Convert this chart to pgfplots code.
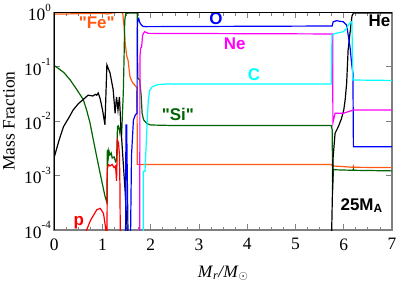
\documentclass[border=0pt]{standalone}
\usepackage{pgfplots}
\pgfplotsset{compat=1.18}
\usepackage{fontspec}
\setmainfont{Liberation Serif}
\newfontfamily\hel{Liberation Sans}
\definecolor{feor}{RGB}{255,90,20}
\definecolor{sigr}{RGB}{0,100,0}
\definecolor{pcyan}{RGB}{0,255,255}
\definecolor{pmag}{RGB}{255,0,255}
\definecolor{pblue}{RGB}{0,0,255}
\definecolor{pred}{RGB}{255,0,0}
\begin{document}
\begin{tikzpicture}
\useasboundingbox (-54.3bp,-55bp) rectangle (344.7bp,230bp);
\begin{axis}[
 name=ax, at={(0,0)}, anchor=south west,
 scale only axis, width=337.7bp, height=217.7bp,
 ymode=log, log basis y=10,
 xmin=0, xmax=7, ymin=1e-4, ymax=1,
 xtick={0,1,2,3,4,5,6,7}, minor x tick num=3,
 ytick={1e-4,1e-3,1e-2,1e-1,1},
 yticklabel={\pgfmathtruncatemacro\myexp{round(\tick)}10\raisebox{0.55em}{\fontsize{11}{12}\selectfont\myexp}},
 axis line style={gray, line width=1.6bp},
 every tick/.style={gray, line width=0.8bp},
 major tick length=6bp, minor tick length=3.5bp,
 tick label style={font=\fontsize{17.5}{20}\selectfont},
 xticklabel style={yshift=-5bp},
 /pgf/number format/assume math mode=true,
 label style={font=\fontsize{17.5}{20}\selectfont},
 xlabel={\textit{M}\textsubscript{\textit{r}}\textit{/M}\textsubscript{$\odot$}},
 ylabel={Mass Fraction},
 xlabel style={at={(axis description cs:0.5,-0.216)}, anchor=base},
 ylabel style={at={(axis description cs:-0.134,0.5)}, anchor=center},
 clip mode=individual,
 every axis plot/.append style={line width=1.2bp, mark=none},
]
% Fe
\addplot[feor] coordinates {(0,0.93)(0.2,0.93)(0.4,0.94)(0.6,0.95)(0.8,0.95)(1.0,0.96)(1.1,0.93)(1.2,0.97)(1.3,0.99)(1.40,0.99)(1.42,0.95)(1.45,0.5)(1.47,0.27)(1.50,0.16)(1.53,0.13)(1.55,0.09)(1.57,0.065)(1.60,0.056)(1.63,0.05)(1.66,0.047)(1.69,0.043)(1.715,0.042)(1.72,0.0016)(5.73,0.0016)(5.78,0.0015)(5.9,0.00148)(6.19,0.00142)(6.20,0.0015)(6.21,0.00142)(7,0.0014)};
% Si
\addplot[sigr] coordinates {(0,0.105)(0.1,0.091)(0.2,0.078)(0.33,0.057)(0.45,0.04)(0.6,0.025)(0.67,0.016)(0.74,0.0093)(0.81,0.0045)(0.88,0.0022)(0.95,0.0011)(1.05,4.2e-4)(1.09,3.2e-4)(1.10,3.0e-3)(1.12,2.2e-3)(1.13,2.9e-3)(1.155,2.4e-3)(1.18,2.6e-3)(1.20,2.1e-3)(1.24,2.2e-3)(1.27,1.8e-3)(1.29,1.9e-3)(1.31,8e-3)(1.33,8.2e-3)(1.36,6e-3)(1.38,8.6e-3)(1.40,7e-3)(1.43,0.033)(1.445,0.13)(1.46,0.7)(1.48,0.95)(1.55,0.97)(1.72,0.97)(1.73,0.062)(1.77,0.057)(1.80,0.03)(1.82,0.014)(1.85,0.0106)(1.92,0.009)(2.0,0.0085)(2.5,0.0083)(5.74,0.0083)(5.76,0.007)(5.77,5.5e-4)(5.785,1.28e-3)(6.19,1.25e-3)(6.2,1.32e-3)(6.21,1.25e-3)(7,1.22e-3)};
% He
\addplot[black] coordinates {(0,0.0022)(0.1,0.0045)(0.19,0.0079)(0.3,0.0115)(0.39,0.016)(0.5,0.021)(0.6,0.025)(0.70,0.030)(0.8,0.029)(0.85,0.031)(0.88,0.030)(0.91,0.033)(0.95,0.026)(1.0,0.016)(1.05,0.0086)(1.09,0.108)(1.155,0.077)(1.22,0.038)(1.26,0.014)(1.29,0.028)(1.32,0.016)(1.35,0.028)(1.38,0.0079)(1.47,4.8e-4)(1.51,1e-4)(1.53,1e-6)(5.74,1e-6)(5.75,1e-4)(5.78,2.2e-3)(5.82,6e-3)(5.89,8e-3)(5.95,0.011)(6.0,0.016)(6.03,0.025)(6.06,0.05)(6.09,0.2)(6.13,0.42)(6.17,0.85)(6.20,0.97)(7,0.97)};
% p
\addplot[pred] coordinates {(0.62,5e-5)(0.67,1e-4)(0.75,1.5e-4)(0.88,2.35e-4)(0.95,2.5e-4)(0.98,2.3e-4)(1.02,2.0e-4)(1.07,1e-4)(1.08,5e-5)(1.09,5e-5)(1.10,1.3e-3)(1.12,1.6e-3)(1.155,1.5e-3)(1.2,1.6e-3)(1.24,1.4e-3)(1.27,1.5e-3)(1.29,8e-4)(1.31,4.5e-3)(1.33,4e-3)(1.35,2.5e-3)(1.36,7e-4)(1.37,5e-5)};
% O
\addplot[pblue] coordinates {(1.47,1e-6)(1.485,8.5e-3)(1.50,8.5e-3)(1.555,1e-6)(1.60,2.3e-3)(1.64,0.0105)(1.68,0.013)(1.715,0.014)(1.72,0.5)(1.73,0.72)(1.75,0.77)(1.76,0.70)(1.78,0.63)(1.81,0.58)(1.84,0.55)(1.9,0.545)(5.76,0.56)(5.78,0.67)(5.85,0.70)(5.99,0.67)(6.06,0.58)(6.13,0.23)(6.17,0.10)(6.19,0.077)(6.20,3.4e-3)(7,3.4e-3)};
% Ne
\addplot[pmag] coordinates {(1.77,1e-6)(1.775,0.15)(1.79,0.22)(1.81,0.23)(1.83,0.38)(1.87,0.44)(1.95,0.41)(5.77,0.40)(5.775,0.0093)(5.82,0.014)(6.0,0.014)(6.1,0.015)(6.2,0.016)(7,0.016)};
% C
\addplot[pcyan] coordinates {(1.84,1e-6)(1.845,1.2e-3)(1.88,1.2e-3)(1.90,3e-3)(1.93,0.012)(1.95,0.025)(1.98,0.037)(2.03,0.043)(2.15,0.047)(2.3,0.048)(5.745,0.048)(5.755,0.38)(5.83,0.41)(5.99,0.44)(6.06,0.51)(6.12,0.63)(6.17,0.67)(6.185,0.057)(7,0.056)};
\node[text=feor, font=\hel\bfseries\fontsize{17}{20}\selectfont] at (axis cs:0.88,0.636) {"Fe"};
\node[text=sigr, font=\hel\bfseries\fontsize{17}{20}\selectfont] at (axis cs:2.56,0.01305) {"Si"};
\node[text=pblue, font=\hel\bfseries\fontsize{17}{20}\selectfont] at (axis cs:3.35,0.753) {O};
\node[text=pmag, font=\hel\bfseries\fontsize{17}{20}\selectfont] at (axis cs:3.74,0.262) {Ne};
\node[text=pcyan, font=\hel\bfseries\fontsize{17}{20}\selectfont] at (axis cs:4.14,0.0707) {C};
\node[text=black, font=\hel\bfseries\fontsize{17}{20}\selectfont] at (axis cs:6.74,0.692) {He};
\node[text=black, font=\hel\bfseries\fontsize{17}{20}\selectfont] at (axis cs:6.37,2.79e-4) {25M\textsubscript{A}};
\node[text=pred, font=\hel\bfseries\fontsize{17}{20}\selectfont, anchor=base] at (axis cs:0.51,1.2e-4) {p};
\end{axis}
\draw[black, line width=1.3bp] (ax.south west) -- (ax.north west) -- (ax.north east);
\end{tikzpicture}
\end{document}
